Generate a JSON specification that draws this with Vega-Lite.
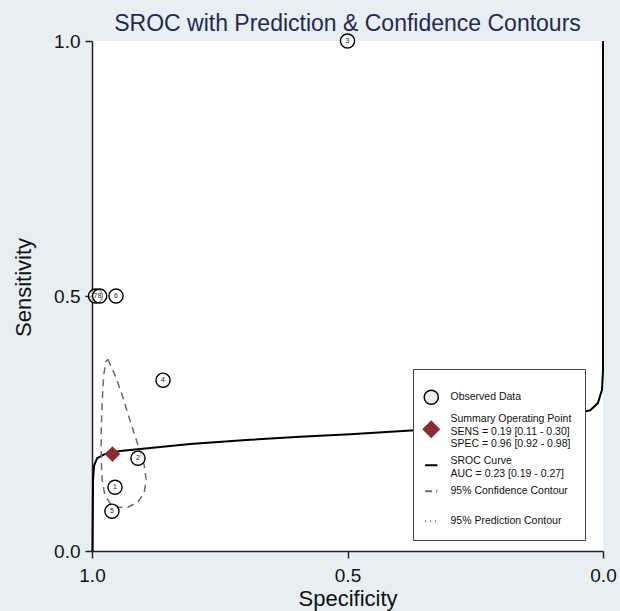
{
  "$schema": "https://vega.github.io/schema/vega-lite/v6.json",
  "width": 511,
  "height": 510,
  "autosize": {"type": "none"},
  "padding": {"left": 92, "top": 41, "right": 17, "bottom": 60},
  "background": "#e8eff3",
  "title": {
    "text": "SROC with Prediction & Confidence Contours",
    "fontSize": 23,
    "font": "Liberation Sans",
    "fontWeight": "normal",
    "color": "#1f2a55",
    "anchor": "middle",
    "offset": -5
  },
  "datasets": {
    "obs": [
      {"id": "1", "spec": 0.955, "sens": 0.125, "series": "obs"},
      {"id": "2", "spec": 0.910, "sens": 0.182, "series": "obs"},
      {"id": "3", "spec": 0.500, "sens": 1.0, "series": "obs"},
      {"id": "4", "spec": 0.861, "sens": 0.335, "series": "obs"},
      {"id": "5", "spec": 0.961, "sens": 0.078, "series": "obs"},
      {"id": "6", "spec": 0.953, "sens": 0.5, "series": "obs"},
      {"id": "7", "spec": 0.993, "sens": 0.5, "series": "obs"},
      {"id": "8", "spec": 0.985, "sens": 0.5, "series": "obs"}
    ],
    "summary": [
      {"spec": 0.96, "sens": 0.19, "series": "sum"}
    ],
    "sroc": [
      {"i": 0, "spec": 0.999, "sens": 0.0, "series": "sroc"},
      {"i": 1, "spec": 0.998, "sens": 0.139, "series": "sroc"},
      {"i": 2, "spec": 0.996, "sens": 0.167, "series": "sroc"},
      {"i": 3, "spec": 0.990, "sens": 0.182, "series": "sroc"},
      {"i": 4, "spec": 0.975, "sens": 0.190, "series": "sroc"},
      {"i": 5, "spec": 0.945, "sens": 0.196, "series": "sroc"},
      {"i": 6, "spec": 0.886, "sens": 0.202, "series": "sroc"},
      {"i": 7, "spec": 0.808, "sens": 0.210, "series": "sroc"},
      {"i": 8, "spec": 0.691, "sens": 0.218, "series": "sroc"},
      {"i": 9, "spec": 0.593, "sens": 0.224, "series": "sroc"},
      {"i": 10, "spec": 0.495, "sens": 0.229, "series": "sroc"},
      {"i": 11, "spec": 0.368, "sens": 0.237, "series": "sroc"},
      {"i": 12, "spec": 0.202, "sens": 0.249, "series": "sroc"},
      {"i": 13, "spec": 0.084, "sens": 0.263, "series": "sroc"},
      {"i": 14, "spec": 0.025, "sens": 0.276, "series": "sroc"},
      {"i": 15, "spec": 0.010, "sens": 0.290, "series": "sroc"},
      {"i": 16, "spec": 0.002, "sens": 0.316, "series": "sroc"},
      {"i": 17, "spec": 0.0, "sens": 0.355, "series": "sroc"},
      {"i": 18, "spec": 0.0, "sens": 1.0, "series": "sroc"}
    ],
    "conf": [
      {"i": 0, "spec": 0.969, "sens": 0.376, "series": "conf"},
      {"i": 1, "spec": 0.955, "sens": 0.345, "series": "conf"},
      {"i": 2, "spec": 0.941, "sens": 0.306, "series": "conf"},
      {"i": 3, "spec": 0.926, "sens": 0.257, "series": "conf"},
      {"i": 4, "spec": 0.910, "sens": 0.208, "series": "conf"},
      {"i": 5, "spec": 0.898, "sens": 0.169, "series": "conf"},
      {"i": 6, "spec": 0.894, "sens": 0.139, "series": "conf"},
      {"i": 7, "spec": 0.898, "sens": 0.114, "series": "conf"},
      {"i": 8, "spec": 0.910, "sens": 0.096, "series": "conf"},
      {"i": 9, "spec": 0.930, "sens": 0.086, "series": "conf"},
      {"i": 10, "spec": 0.949, "sens": 0.086, "series": "conf"},
      {"i": 11, "spec": 0.965, "sens": 0.094, "series": "conf"},
      {"i": 12, "spec": 0.975, "sens": 0.110, "series": "conf"},
      {"i": 13, "spec": 0.980, "sens": 0.139, "series": "conf"},
      {"i": 14, "spec": 0.982, "sens": 0.178, "series": "conf"},
      {"i": 15, "spec": 0.982, "sens": 0.237, "series": "conf"},
      {"i": 16, "spec": 0.980, "sens": 0.296, "series": "conf"},
      {"i": 17, "spec": 0.977, "sens": 0.345, "series": "conf"},
      {"i": 18, "spec": 0.973, "sens": 0.371, "series": "conf"},
      {"i": 19, "spec": 0.969, "sens": 0.376, "series": "conf"}
    ]
  },
  "encoding": {
    "x": {
      "field": "spec",
      "type": "quantitative",
      "scale": {"domain": [0, 1], "reverse": true, "nice": false, "zero": false},
      "axis": {
        "title": "Specificity",
        "values": [0, 0.5, 1],
        "format": ".1f",
        "grid": false,
        "tickSize": 7,
        "labelPadding": 8,
        "titlePadding": 3,
        "labelFontSize": 19,
        "titleFontSize": 22,
        "labelFlush": false
      }
    },
    "y": {
      "field": "sens",
      "type": "quantitative",
      "scale": {"domain": [0, 1], "nice": false, "zero": false},
      "axis": {
        "title": "Sensitivity",
        "values": [0, 0.5, 1],
        "format": ".1f",
        "grid": false,
        "tickSize": 7,
        "labelPadding": 5,
        "titlePadding": 18,
        "titleY": 246,
        "labelFontSize": 19,
        "titleFontSize": 22,
        "labelFlush": false
      }
    }
  },
  "layer": [
    {
      "data": {"name": "sroc"},
      "mark": {"type": "line", "strokeWidth": 2},
      "encoding": {
        "order": {"field": "i", "type": "quantitative"},
        "stroke": {
          "field": "series",
          "type": "nominal",
          "scale": {"domain": ["obs", "sum", "sroc", "conf", "pred"], "range": ["#000000", "#8b2c33", "#000000", "#6b6b6b", "#6b6b6b"]},
          "legend": {
            "orient": "none",
            "legendX": 321,
            "legendY": 328,
            "title": " ",
            "titleFontSize": 8,
            "titlePadding": 2,
            "padding": 13,
            "rowPadding": 6,
            "labelOffset": 14,
            "labelFontSize": 10.5,
            "labelFont": "Liberation Sans",
            "labelColor": "#111111",
            "labelLimit": 300,
            "strokeColor": "#444444",
            "fillColor": "#ffffff",
            "symbolSize": 200,
            "labelExpr": "datum.value == 'sum' ? ['Summary Operating Point', 'SENS = 0.19 [0.11 - 0.30]', 'SPEC = 0.96 [0.92 - 0.98]'] : datum.value == 'sroc' ? ['SROC Curve', 'AUC = 0.23 [0.19 - 0.27]'] : datum.value == 'obs' ? 'Observed Data' : datum.value == 'conf' ? ['95% Confidence Contour', ''] : '95% Prediction Contour'",
            "encode": {
              "symbols": {
                "update": {
                  "shape": {"signal": "datum.value == 'obs' ? 'circle' : datum.value == 'sum' ? 'diamond' : 'stroke'"},
                  "fill": {"signal": "datum.value == 'obs' ? '#eeeeee' : datum.value == 'sum' ? '#8b2c33' : 'transparent'"},
                  "strokeDash": {"signal": "datum.value == 'conf' ? [7, 4] : datum.value == 'pred' ? [1, 4] : []"},
                  "strokeWidth": {"signal": "datum.value == 'obs' ? 1.5 : 2"},
                  "size": {"signal": "datum.value == 'obs' ? 200 : datum.value == 'sum' ? 230 : 150"},
                  "opacity": {"value": 1}
                }
              },
              "labels": {
                "update": {
                  "lineHeight": {"value": 12.5},
                  "dy": {"signal": "datum.value == 'sum' ? -10 : datum.value == 'sroc' ? -4 : 0"}
                }
              }
            }
          }
        }
      }
    },
    {
      "data": {"name": "conf"},
      "mark": {"type": "line", "strokeWidth": 1.5, "strokeDash": [7, 5]},
      "encoding": {
        "order": {"field": "i", "type": "quantitative"},
        "stroke": {
          "field": "series",
          "type": "nominal",
          "scale": {"domain": ["obs", "sum", "sroc", "conf", "pred"], "range": ["#000000", "#8b2c33", "#000000", "#6b6b6b", "#6b6b6b"]}
        }
      }
    },
    {
      "data": {"name": "summary"},
      "mark": {"type": "point", "shape": "diamond", "filled": true, "fill": "#8b2c33", "size": 230, "opacity": 1, "strokeWidth": 0.5},
      "encoding": {
        "stroke": {
          "field": "series",
          "type": "nominal",
          "scale": {"domain": ["obs", "sum", "sroc", "conf", "pred"], "range": ["#000000", "#8b2c33", "#000000", "#6b6b6b", "#6b6b6b"]}
        }
      }
    },
    {
      "data": {"name": "obs"},
      "mark": {"type": "point", "shape": "circle", "fill": "#ffffff", "fillOpacity": 0.6, "size": 200, "opacity": 1, "strokeWidth": 1.4},
      "encoding": {
        "stroke": {
          "field": "series",
          "type": "nominal",
          "scale": {"domain": ["obs", "sum", "sroc", "conf", "pred"], "range": ["#000000", "#8b2c33", "#000000", "#6b6b6b", "#6b6b6b"]}
        }
      }
    },
    {
      "data": {"name": "obs"},
      "mark": {"type": "text", "fontSize": 7, "color": "#222222", "align": "center", "baseline": "middle", "font": "Liberation Sans"},
      "encoding": {
        "text": {"field": "id", "type": "nominal"}
      }
    }
  ],
  "config": {
    "view": {"fill": "#ffffff", "stroke": null},
    "font": "Liberation Sans",
    "axis": {
      "domainColor": "#222222",
      "domainWidth": 1.5,
      "tickColor": "#222222",
      "tickWidth": 1.5,
      "labelColor": "#111111",
      "titleColor": "#111111",
      "titleFontWeight": "normal",
      "labelFont": "Liberation Sans",
      "titleFont": "Liberation Sans"
    }
  }
}
